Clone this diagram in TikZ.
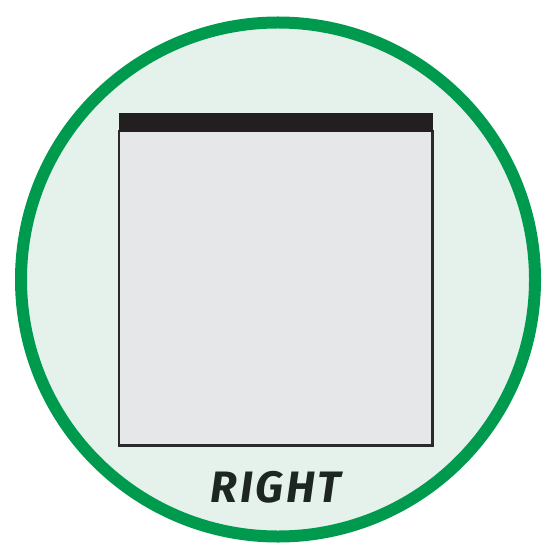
\documentclass[tikz,border=0pt]{standalone}
\usepackage{fontspec}
\newfontfamily\labelfont[LetterSpace=6]{Fira Sans}
\usepackage{tikz}
\usetikzlibrary{positioning}
\definecolor{badgegreen}{HTML}{009A4E}
\definecolor{badgemint}{HTML}{E5F2EB}
\definecolor{panelgray}{HTML}{E6E7E9}
\definecolor{panelline}{HTML}{2B2A2B}
\definecolor{barblack}{HTML}{231F20}
\definecolor{labelink}{HTML}{1E2621}
\tikzset{
	badgering/.style={
			draw=badgegreen,
			fill=badgemint,
			line width=12pt
		},
	panelbox/.style={
			draw=panelline,
			fill=panelgray,
			line width=2.5pt
		},
	panelbar/.style={
			fill=barblack,
			draw=none
		},
	sidelabel/.style={
			font=\labelfont\bfseries\itshape\fontsize{44}{46}\selectfont,
			text=labelink,
			inner sep=0pt
		}
}
\begin{document}
\begin{tikzpicture}[x=1pt, y=-1pt]
\useasboundingbox (0,0) rectangle (542,545);
\draw[badgering] (278,279.5) circle (257);

\draw[panelbox] (119,131) rectangle (432.5,445.5);
\fill[panelbar] (119,113.3) rectangle (432.7,132);

\node[sidelabel, anchor=base] (side) at (276,502) {RIGHT};
\end{tikzpicture}
\end{document}
